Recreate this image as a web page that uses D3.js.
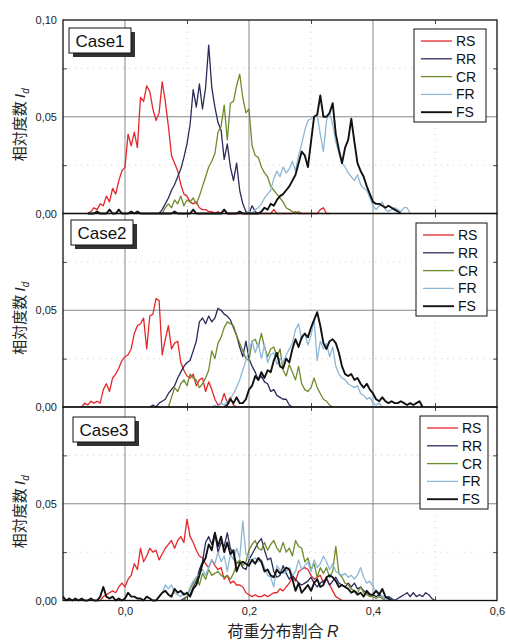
<!DOCTYPE html>
<html>
<head>
<meta charset="utf-8">
<script src="https://cdn.jsdelivr.net/npm/d3@7/dist/d3.min.js"></script>
<style>
  html, body { margin: 0; padding: 0; background: #fff; }
  svg { display: block; }
  .tick text { font-family: "Liberation Sans", Arial, sans-serif; font-size: 11px; fill: #222; }
</style>
</head>
<body>
<svg id="chart" width="506" height="641"></svg>
<script>
// Relative frequency distributions of the load distribution ratio R,
// histogram bins of width 0.005, one panel per case.
const binWidth = 0.005;
const cases = ["Case1", "Case2", "Case3"];
const seriesNames = ["RS", "RR", "CR", "FR", "FS"];
const xTickValues = [0.0, 0.2, 0.4, 0.6];
const yTickValues = [0.0, 0.05, 0.10];

// first bin centre of each series, per case
const seriesStart = {
  Case1: { RS: -0.060, RR: 0.055, CR: 0.060, FR: 0.195, FS: -0.060 },
  Case2: { RS: -0.070, RR: 0.040, CR: 0.070, FR: 0.140, FS: 0.160 },
  Case3: { RS: -0.045, RR: 0.090, CR: 0.095, FR: 0.050, FS: -0.100 }
};

// ---- Case1 ----
const case1RS = [
  0.000, 0.001, 0.003, 0.002, 0.005, 0.004, 0.009, 0.006, 0.013, 0.010,
  0.017, 0.022, 0.024, 0.041, 0.035, 0.042, 0.034, 0.060, 0.058, 0.066,
  0.063, 0.054, 0.048, 0.052, 0.068, 0.058, 0.045, 0.030, 0.026, 0.022,
  0.015, 0.010, 0.009, 0.006, 0.005, 0.006, 0.003, 0.002, 0.002, 0.001,
  0.001, 0.000, 0.001, 0.000, 0.002, 0.000, 0.000, 0.000, 0.000, 0.000,
  0.000, 0.000, 0.000, 0.000, 0.000, 0.000, 0.000, 0.000, 0.000, 0.000,
  0.002, 0.000, 0.000, 0.000, 0.000, 0.000, 0.000, 0.001, 0.000, 0.000,
  0.000, 0.000, 0.000, 0.000, 0.000, 0.002, 0.003, 0.000, 0.000
];
const case1RR = [
  0.000, 0.002, 0.005, 0.008, 0.012, 0.015, 0.019, 0.023, 0.029, 0.036,
  0.046, 0.064, 0.055, 0.067, 0.054, 0.065, 0.087, 0.065, 0.055, 0.047,
  0.043, 0.028, 0.036, 0.024, 0.017, 0.026, 0.012, 0.005, 0.001, 0.000,
  0.004, 0.001, 0.000
];
const case1CR = [
  0.000, 0.003, 0.005, 0.003, 0.007, 0.005, 0.009, 0.004, 0.007, 0.006,
  0.008, 0.005, 0.009, 0.014, 0.019, 0.024, 0.027, 0.031, 0.042, 0.045,
  0.056, 0.038, 0.057, 0.058, 0.066, 0.072, 0.060, 0.052, 0.054, 0.035,
  0.030, 0.029, 0.024, 0.021, 0.019, 0.014, 0.012, 0.010, 0.008, 0.006,
  0.003, 0.002, 0.001, 0.000, 0.001, 0.000
];
const case1FR = [
  0.000, 0.001, 0.000, 0.002, 0.003, 0.005, 0.008, 0.010, 0.012, 0.018,
  0.022, 0.019, 0.024, 0.021, 0.023, 0.027, 0.022, 0.030, 0.036, 0.043,
  0.048, 0.049, 0.050, 0.051, 0.041, 0.032, 0.048, 0.052, 0.046, 0.037,
  0.031, 0.026, 0.024, 0.021, 0.019, 0.017, 0.020, 0.015, 0.013, 0.012,
  0.008, 0.004, 0.002, 0.004, 0.006, 0.002, 0.001, 0.002, 0.003, 0.002,
  0.001, 0.003, 0.003, 0.000
];
const case1FS = [
  0.000, 0.000, 0.000, 0.001, 0.000, 0.000, 0.000, 0.002, 0.000, 0.000,
  0.002, 0.000, 0.000, 0.000, 0.001, 0.000, 0.001, 0.000, 0.000, 0.000,
  0.000, 0.000, 0.000, 0.000, 0.000, 0.000, 0.000, 0.000, 0.001, 0.000,
  0.000, 0.000, 0.000, 0.000, 0.002, 0.000, 0.000, 0.000, 0.000, 0.000,
  0.000, 0.000, 0.000, 0.000, 0.002, 0.000, 0.000, 0.000, 0.000, 0.001,
  0.000, 0.000, 0.000, 0.000, 0.000,
  0.000, 0.001, 0.003, 0.002, 0.005, 0.004, 0.007, 0.009, 0.010, 0.012,
  0.014, 0.017, 0.020, 0.026, 0.032, 0.030, 0.024, 0.037, 0.050, 0.051,
  0.061, 0.050, 0.050, 0.052, 0.057, 0.041, 0.033, 0.026, 0.034, 0.038,
  0.049, 0.037, 0.026, 0.022, 0.019, 0.014, 0.010, 0.006, 0.005, 0.005,
  0.004, 0.003, 0.004, 0.003, 0.002, 0.001, 0.000
];

// ---- Case2 ----
const case2RS = [
  0.000, 0.002, 0.001, 0.003, 0.002, 0.003, 0.002, 0.009, 0.012, 0.008,
  0.015, 0.017, 0.020, 0.024, 0.026, 0.027, 0.030, 0.038, 0.042, 0.043,
  0.046, 0.030, 0.047, 0.048, 0.056, 0.055, 0.027, 0.035, 0.042, 0.030,
  0.033, 0.034, 0.023, 0.019, 0.016, 0.015, 0.017, 0.011, 0.014, 0.015,
  0.008, 0.013, 0.009, 0.004, 0.001, 0.002, 0.007, 0.002, 0.005, 0.001,
  0.000
];
const case2RR = [
  0.000, 0.001, 0.000, 0.002, 0.003, 0.004, 0.007, 0.009, 0.011, 0.015,
  0.018, 0.021, 0.023, 0.024, 0.029, 0.034, 0.044, 0.046, 0.043, 0.047,
  0.044, 0.046, 0.051, 0.050, 0.048, 0.047, 0.045, 0.041, 0.037, 0.031,
  0.026, 0.034, 0.025, 0.021, 0.018, 0.014, 0.016, 0.013, 0.012, 0.008,
  0.009, 0.006, 0.005, 0.004, 0.004, 0.001, 0.000
];
const case2CR = [
  0.000, 0.005, 0.010, 0.008, 0.012, 0.014, 0.011, 0.017, 0.015, 0.014,
  0.010, 0.012, 0.015, 0.019, 0.029, 0.025, 0.033, 0.036, 0.041, 0.044,
  0.043, 0.042, 0.037, 0.033, 0.029, 0.025, 0.024, 0.034, 0.035, 0.031,
  0.038, 0.031, 0.026, 0.030, 0.031, 0.026, 0.030, 0.019, 0.016, 0.022,
  0.018, 0.014, 0.021, 0.012, 0.009, 0.008, 0.010, 0.015, 0.010, 0.007,
  0.004, 0.003, 0.001, 0.000
];
const case2FR = [
  0.000, 0.001, 0.000, 0.002, 0.001, 0.003, 0.004, 0.007, 0.010, 0.014,
  0.019, 0.024, 0.029, 0.034, 0.028, 0.033, 0.025, 0.032, 0.023, 0.027,
  0.028, 0.022, 0.025, 0.023, 0.027, 0.030, 0.033, 0.040, 0.043, 0.035,
  0.038, 0.032, 0.037, 0.045, 0.024, 0.034, 0.030, 0.033, 0.026, 0.031,
  0.021, 0.017, 0.015, 0.014, 0.012, 0.011, 0.010, 0.011, 0.007, 0.006,
  0.004, 0.005, 0.002, 0.001, 0.002, 0.000
];
const case2FS = [
  0.000, 0.001, 0.004, 0.002, 0.005, 0.002, 0.002, 0.004, 0.009, 0.011,
  0.016, 0.014, 0.018, 0.015, 0.019, 0.018, 0.024, 0.028, 0.021, 0.020,
  0.025, 0.023, 0.030, 0.035, 0.031, 0.036, 0.038, 0.036, 0.041, 0.045,
  0.049, 0.042, 0.033, 0.030, 0.034, 0.035, 0.033, 0.028, 0.021, 0.017,
  0.016, 0.017, 0.014, 0.015, 0.012, 0.010, 0.012, 0.009, 0.007, 0.004,
  0.003, 0.005, 0.003, 0.002, 0.003, 0.002, 0.002, 0.003, 0.002, 0.001,
  0.002, 0.001, 0.002, 0.003, 0.000
];

// ---- Case3 ----
const case3RS = [
  0.000, 0.000, 0.002, 0.003, 0.004, 0.005, 0.004, 0.007, 0.009, 0.007,
  0.011, 0.013, 0.019, 0.016, 0.027, 0.020, 0.023, 0.027, 0.025, 0.026,
  0.021, 0.024, 0.027, 0.029, 0.031, 0.027, 0.031, 0.033, 0.030, 0.042,
  0.033, 0.030, 0.026, 0.023, 0.022, 0.019, 0.017, 0.021, 0.018, 0.016,
  0.017, 0.011, 0.013, 0.009, 0.010, 0.008, 0.008, 0.007, 0.004, 0.003,
  0.002, 0.003, 0.002, 0.002, 0.003, 0.002, 0.003, 0.004, 0.004, 0.006,
  0.005, 0.007, 0.009, 0.012, 0.010, 0.015, 0.016, 0.017, 0.016, 0.013,
  0.011, 0.012, 0.013, 0.009, 0.012, 0.008, 0.005, 0.002, 0.001, 0.000
];
const case3RR = [
  0.000, 0.001, 0.002, 0.003, 0.007, 0.010, 0.016, 0.020, 0.030, 0.033,
  0.029, 0.035, 0.025, 0.030, 0.028, 0.035, 0.027, 0.024, 0.019, 0.020,
  0.017, 0.016, 0.021, 0.024, 0.027, 0.030, 0.032, 0.026, 0.021, 0.022,
  0.015, 0.012, 0.013, 0.018, 0.014, 0.011, 0.013, 0.011, 0.009, 0.008,
  0.009, 0.010, 0.012, 0.009, 0.007, 0.009, 0.010, 0.011, 0.008, 0.010,
  0.012, 0.009, 0.008, 0.007, 0.009, 0.007, 0.009, 0.006, 0.007, 0.005,
  0.004, 0.003, 0.003, 0.002, 0.003, 0.002, 0.001, 0.002, 0.001, 0.000,
  0.001, 0.002, 0.003, 0.004, 0.002, 0.004, 0.002, 0.003, 0.002, 0.004,
  0.003, 0.001, 0.000
];
const case3CR = [
  0.000, 0.002, 0.006, 0.009, 0.012, 0.008, 0.014, 0.011, 0.016, 0.013,
  0.014, 0.015, 0.013, 0.012, 0.013, 0.011, 0.014, 0.019, 0.021, 0.018,
  0.020, 0.026, 0.029, 0.031, 0.027, 0.026, 0.030, 0.026, 0.029, 0.031,
  0.027, 0.025, 0.030, 0.025, 0.027, 0.023, 0.031, 0.028, 0.027, 0.020,
  0.022, 0.016, 0.019, 0.012, 0.017, 0.014, 0.017, 0.012, 0.015, 0.028,
  0.014, 0.012, 0.009, 0.008, 0.006, 0.005, 0.004, 0.007, 0.004, 0.003,
  0.002, 0.002, 0.001, 0.002, 0.001, 0.000
];
const case3FR = [
  0.000, 0.002, 0.004, 0.008, 0.006, 0.008, 0.004, 0.003, 0.002, 0.004,
  0.003, 0.007, 0.010, 0.012, 0.014, 0.016, 0.013, 0.017, 0.021, 0.019,
  0.025, 0.020, 0.023, 0.015, 0.024, 0.021, 0.027, 0.022, 0.041, 0.024,
  0.022, 0.021, 0.022, 0.020, 0.021, 0.017, 0.013, 0.012, 0.007, 0.018,
  0.016, 0.014, 0.015, 0.017, 0.013, 0.015, 0.021, 0.016, 0.018, 0.020,
  0.015, 0.021, 0.017, 0.019, 0.023, 0.020, 0.016, 0.019, 0.015, 0.014,
  0.013, 0.014, 0.012, 0.013, 0.011, 0.013, 0.017, 0.012, 0.009, 0.010,
  0.007, 0.005, 0.004, 0.002, 0.001, 0.000
];
const case3FS = [
  0.002, 0.000, 0.001, 0.000, 0.001, 0.000, 0.001, 0.000, 0.000, 0.001,
  0.000, 0.000, 0.002, 0.007, 0.002, 0.001, 0.002, 0.000, 0.001, 0.000,
  0.001, 0.004, 0.002, 0.002, 0.001, 0.001, 0.000, 0.002, 0.001, 0.000,
  0.000, 0.002, 0.004, 0.005, 0.003, 0.002, 0.006, 0.004, 0.005, 0.003,
  0.004, 0.002, 0.006, 0.008, 0.013, 0.019, 0.022, 0.029, 0.026, 0.035,
  0.028, 0.033, 0.025, 0.030, 0.024, 0.026, 0.015, 0.019, 0.020, 0.019,
  0.018, 0.021, 0.019, 0.022, 0.020, 0.015, 0.016, 0.013, 0.012, 0.016,
  0.014, 0.015, 0.017, 0.016, 0.011, 0.005, 0.009, 0.004, 0.006, 0.008,
  0.005, 0.009, 0.011, 0.007, 0.008, 0.012, 0.013, 0.012, 0.010, 0.007,
  0.008, 0.007, 0.006, 0.004, 0.005, 0.003, 0.004, 0.002, 0.005, 0.003,
  0.003, 0.005, 0.003, 0.006, 0.002, 0.001, 0.000
];

const caseData = {
  Case1: { RS: case1RS, RR: case1RR, CR: case1CR, FR: case1FR, FS: case1FS },
  Case2: { RS: case2RS, RR: case2RR, CR: case2CR, FR: case2FR, FS: case2FS },
  Case3: { RS: case3RS, RR: case3RR, CR: case3CR, FR: case3FR, FS: case3FS }
};

const colors = { RS: "#e5262a", RR: "#2b2b5c", CR: "#6f8b2c", FR: "#8db8d6", FS: "#111111" };
const widths = { RS: 1.3, RR: 1.3, CR: 1.3, FR: 1.3, FS: 1.9 };

const svg = d3.select("#chart");
const left = 63, right = 497, top0 = 20, panelH = 193.5;
const fmtX = v => d3.format(".1f")(v).replace(".", ",");
const fmtY = v => d3.format(".2f")(v).replace(".", ",");

const x = d3.scaleLinear().domain([-0.1, 0.6]).range([left, right]);

const legendBoxes = [
  { x: 414, y: 29, w: 72 },
  { x: 416, y: 223, w: 71 },
  { x: 420, y: 416, w: 68 }
];
const caseBoxes = [
  { x: 69, y: 28 }, { x: 71, y: 220 }, { x: 73, y: 417 }
];

cases.forEach((c, i) => {
  const pTop = top0 + i * panelH;
  const pBot = pTop + panelH;
  const y = d3.scaleLinear().domain([0, 0.10]).range([pBot, pTop]);
  const g = svg.append("g");

  // faint dotted minor grid
  [0.1, 0.3, 0.5].forEach(v => g.append("line")
    .attr("x1", x(v)).attr("x2", x(v)).attr("y1", pTop).attr("y2", pBot)
    .attr("stroke", "#c8c8c8").attr("stroke-width", 0.8).attr("stroke-dasharray", "1,5"));
  [0.025, 0.075].forEach(v => g.append("line")
    .attr("x1", left).attr("x2", right).attr("y1", y(v)).attr("y2", y(v))
    .attr("stroke", "#c8c8c8").attr("stroke-width", 0.8).attr("stroke-dasharray", "1,5"));

  // major grid
  [0.0, 0.2, 0.4].forEach(v => g.append("line")
    .attr("x1", x(v)).attr("x2", x(v)).attr("y1", pTop).attr("y2", pBot)
    .attr("stroke", "#7a7a7a").attr("stroke-width", 0.9));
  g.append("line")
    .attr("x1", left).attr("x2", right).attr("y1", y(0.05)).attr("y2", y(0.05))
    .attr("stroke", "#7a7a7a").attr("stroke-width", 0.9);

  // inward ticks on all four sides
  const yLeft = d3.axisLeft(y).tickValues([0.025, 0.075]).tickSizeInner(-4).tickSizeOuter(0).tickFormat("");
  const yRight = d3.axisRight(y).tickValues([0.025, 0.075]).tickSizeInner(-4).tickSizeOuter(0).tickFormat("");
  const xTop = d3.axisTop(x).tickValues([0.1, 0.3, 0.5]).tickSizeInner(-4).tickSizeOuter(0).tickFormat("");
  const xBot = d3.axisBottom(x).tickValues([0.1, 0.3, 0.5]).tickSizeInner(-4).tickSizeOuter(0).tickFormat("");
  [[yLeft, `translate(${left},0)`], [yRight, `translate(${right},0)`],
   [xTop, `translate(0,${pTop})`], [xBot, `translate(0,${pBot})`]].forEach(([ax, tr]) => {
    const a = g.append("g").attr("transform", tr).call(ax);
    a.select(".domain").remove();
    a.selectAll("line").attr("stroke", "#333").attr("stroke-width", 0.9);
  });

  // y tick labels
  const yLab = d3.axisLeft(y)
    .tickValues(i === 0 ? yTickValues : yTickValues.slice(0, 2))
    .tickSize(0).tickPadding(6).tickFormat(fmtY);
  const yl = g.append("g").attr("transform", `translate(${left},0)`).call(yLab);
  yl.select(".domain").remove();

  // series
  const line = d3.line()
    .x(d => x(d.r))
    .y(d => y(d.v));
  seriesNames.forEach(s => {
    const start = seriesStart[c][s];
    const pts = caseData[c][s].map((v, k) => ({ r: start + k * binWidth, v }));
    g.append("path").datum(pts)
      .attr("d", line)
      .attr("fill", "none")
      .attr("stroke", colors[s])
      .attr("stroke-width", widths[s])
      .attr("stroke-linejoin", "round");
  });

  // frame
  g.append("rect")
    .attr("x", left).attr("y", pTop).attr("width", right - left).attr("height", panelH)
    .attr("fill", "none").attr("stroke", "#111").attr("stroke-width", 1.3);

  // case label with drop shadow
  const cb = caseBoxes[i];
  g.append("rect").attr("x", cb.x + 4).attr("y", cb.y + 4).attr("width", 62).attr("height", 25)
    .attr("fill", "#333");
  g.append("rect").attr("x", cb.x).attr("y", cb.y).attr("width", 62).attr("height", 25)
    .attr("fill", "#fff").attr("stroke", "#111").attr("stroke-width", 1);
  g.append("text").attr("x", cb.x + 31).attr("y", cb.y + 18.5)
    .attr("text-anchor", "middle")
    .attr("font-family", "Liberation Sans, Arial, sans-serif")
    .attr("font-size", 17).attr("fill", "#111").text(c);

  // legend
  const lb = legendBoxes[i];
  const lg = g.append("g").attr("transform", `translate(${lb.x},${lb.y})`);
  lg.append("rect").attr("width", lb.w).attr("height", 93)
    .attr("fill", "#fff").attr("stroke", "#111").attr("stroke-width", 1);
  seriesNames.forEach((s, k) => {
    const ly = 12 + k * 17.8;
    lg.append("line").attr("x1", 7).attr("x2", 38).attr("y1", ly).attr("y2", ly)
      .attr("stroke", colors[s]).attr("stroke-width", widths[s]);
    lg.append("text").attr("x", 42).attr("y", ly + 5)
      .attr("font-family", "Liberation Sans, Arial, sans-serif")
      .attr("font-size", 14).attr("fill", "#111").text(s);
  });

  // y axis title
  const yc = (pTop + pBot) / 2 + 8;
  const t = svg.append("text")
    .attr("transform", `translate(25,${yc}) rotate(-90)`)
    .attr("text-anchor", "middle")
    .attr("font-family", "Noto Sans CJK JP, sans-serif")
    .attr("font-size", 15).attr("fill", "#222");
  t.append("tspan").text("相対度数 ");
  t.append("tspan").attr("font-family", "Liberation Sans, Arial, sans-serif")
    .attr("font-style", "italic").text("I");
  t.append("tspan").attr("font-family", "Liberation Sans, Arial, sans-serif")
    .attr("font-style", "italic").attr("font-size", 10).attr("dy", 4).text("d");
});

// x tick labels below the bottom panel
const yBottom = top0 + 3 * panelH;
const xl = svg.append("g").attr("transform", `translate(0,${yBottom})`)
  .call(d3.axisBottom(x).tickValues(xTickValues).tickSize(0).tickPadding(7).tickFormat(fmtX));
xl.select(".domain").remove();

// x axis title
const xt = svg.append("text")
  .attr("x", 283).attr("y", 637)
  .attr("text-anchor", "middle")
  .attr("font-family", "Noto Sans CJK JP, sans-serif")
  .attr("font-size", 16).attr("fill", "#222");
xt.append("tspan").text("荷重分布割合 ");
xt.append("tspan").attr("font-family", "Liberation Sans, Arial, sans-serif")
  .attr("font-style", "italic").text("R");
</script>
</body>
</html>
